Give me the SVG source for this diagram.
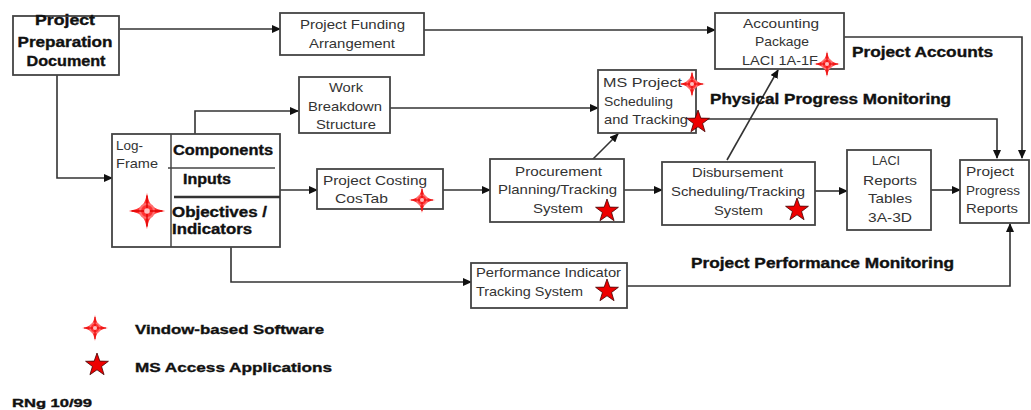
<svg xmlns="http://www.w3.org/2000/svg" width="1031" height="410" viewBox="0 0 1031 410">
<style>
.box{fill:#fff;stroke:#444;stroke-width:1.8}
.t{font-family:"Liberation Sans",Arial,sans-serif;font-size:13px;fill:#333}
.b{font-family:"Liberation Sans",Arial,sans-serif;font-size:14px;font-weight:bold;fill:#111;stroke:#111;stroke-width:0.35}
.c{stroke:#333;stroke-width:1.6;fill:none}
</style>
<defs>
<marker id="ah" markerWidth="9" markerHeight="8" refX="8" refY="4" orient="auto" markerUnits="userSpaceOnUse">
<path d="M0,0 L9,4 L0,8 Z" fill="#111"/>
</marker>
<g id="cross">
<path d="M0,-13 C1.5,-4 4,-1.5 13,0 C4,1.5 1.5,4 0,13 C-1.5,4 -4,1.5 -13,0 C-4,-1.5 -1.5,-4 0,-13 Z" fill="#ff3030"/>
<circle r="5" fill="none" stroke="#ff7070" stroke-width="1.5"/>
<path d="M0,-11 V11 M-11,0 H11" stroke="#e00000" stroke-width="1"/>
<circle r="2" fill="#ffc0c0"/>
</g>
<polygon id="star" points="0,-12 2.82,-3.88 11.41,-3.71 4.56,1.48 7.05,9.71 0,4.8 -7.05,9.71 -4.56,1.48 -11.41,-3.71 -2.82,-3.88" fill="#e00" stroke="#400" stroke-width="0.8"/>
</defs>
<rect width="1031" height="410" fill="#fff"/>

<g id="connectors">
<path class="c" d="M120,29 H280" marker-end="url(#ah)"/>
<path class="c" d="M424,30 H715" marker-end="url(#ah)"/>
<path class="c" d="M57,75 V178 H112" marker-end="url(#ah)"/>
<path class="c" d="M195,134 V111 H298" marker-end="url(#ah)"/>
<path class="c" d="M390,108 H598" marker-end="url(#ah)"/>
<path class="c" d="M275,190 H317" marker-end="url(#ah)"/>
<path class="c" d="M443,190 H490" marker-end="url(#ah)"/>
<path class="c" d="M624,190 H662" marker-end="url(#ah)"/>
<path class="c" d="M592,160 L618,134" marker-end="url(#ah)"/>
<path class="c" d="M727,160 L778,70" marker-end="url(#ah)"/>
<path class="c" d="M815,191 H847" marker-end="url(#ah)"/>
<path class="c" d="M931,190 H960" marker-end="url(#ah)"/>
<path class="c" d="M844,37 H1022 V158" marker-end="url(#ah)"/>
<path class="c" d="M696,119 H997 V158" marker-end="url(#ah)"/>
<path class="c" d="M231,247 V282 H471" marker-end="url(#ah)"/>
<path class="c" d="M627,286 H1010 V224" marker-end="url(#ah)"/>
</g>

<g id="ppd">
<rect class="box" x="13" y="16" width="106" height="59"/>
<text class="b" x="65" y="25" text-anchor="middle" textLength="60" lengthAdjust="spacingAndGlyphs">Project</text>
<text class="b" x="65" y="47" text-anchor="middle" textLength="95" lengthAdjust="spacingAndGlyphs">Preparation</text>
<text class="b" x="66" y="66" text-anchor="middle" textLength="79" lengthAdjust="spacingAndGlyphs">Document</text>
</g>

<g id="funding">
<rect class="box" x="280" y="13" width="144" height="42"/>
<text class="t" x="300" y="29" textLength="105" lengthAdjust="spacingAndGlyphs">Project Funding</text>
<text class="t" x="309" y="48" textLength="86" lengthAdjust="spacingAndGlyphs">Arrangement</text>
</g>

<g id="accounting">
<rect class="box" x="715" y="13" width="129" height="56"/>
<text class="t" x="743" y="28" textLength="76" lengthAdjust="spacingAndGlyphs">Accounting</text>
<text class="t" x="755" y="46" textLength="54" lengthAdjust="spacingAndGlyphs">Package</text>
<text class="t" x="742" y="65" textLength="76" lengthAdjust="spacingAndGlyphs">LACI 1A-1F</text>
<use href="#cross" x="827" y="64"/>
</g>

<g id="wbs">
<rect class="box" x="299" y="77" width="91" height="56"/>
<text class="t" x="329" y="92" textLength="34" lengthAdjust="spacingAndGlyphs">Work</text>
<text class="t" x="308" y="111" textLength="74" lengthAdjust="spacingAndGlyphs">Breakdown</text>
<text class="t" x="316" y="129" textLength="60" lengthAdjust="spacingAndGlyphs">Structure</text>
</g>

<g id="msproject">
<rect class="box" x="598" y="70" width="98" height="63"/>
<text class="t" x="603" y="87" textLength="79" lengthAdjust="spacingAndGlyphs">MS Project</text>
<text class="t" x="604" y="106" textLength="69" lengthAdjust="spacingAndGlyphs">Scheduling</text>
<text class="t" x="604" y="124" textLength="84" lengthAdjust="spacingAndGlyphs">and Tracking</text>
<use href="#cross" x="692" y="84"/>
<use href="#star" x="698" y="122"/>
</g>

<g id="logframe">
<rect class="box" x="112" y="134" width="168" height="113"/>
<path d="M171,134 V247" stroke="#444" stroke-width="1.5"/>
<path d="M168,168 H275" stroke="#444" stroke-width="1.5"/>
<path d="M174,197 H280" stroke="#333" stroke-width="2.5"/>
<text class="t" x="116" y="150" textLength="27" lengthAdjust="spacingAndGlyphs">Log-</text>
<text class="t" x="116" y="168" textLength="42" lengthAdjust="spacingAndGlyphs">Frame</text>
<text class="b" x="173" y="155" textLength="100" lengthAdjust="spacingAndGlyphs">Components</text>
<text class="b" x="183" y="184" textLength="48" lengthAdjust="spacingAndGlyphs">Inputs</text>
<text class="b" x="172" y="217" textLength="95" lengthAdjust="spacingAndGlyphs">Objectives /</text>
<text class="b" x="172" y="234" textLength="80" lengthAdjust="spacingAndGlyphs">Indicators</text>
<use href="#cross" transform="translate(147,211) scale(1.4)"/>
</g>

<g id="costing">
<rect class="box" x="317" y="169" width="126" height="40"/>
<text class="t" x="323" y="185" textLength="104" lengthAdjust="spacingAndGlyphs">Project Costing</text>
<text class="t" x="335" y="203" textLength="53" lengthAdjust="spacingAndGlyphs">CosTab</text>
<use href="#cross" x="422" y="200"/>
</g>

<g id="procurement">
<rect class="box" x="490" y="159" width="134" height="63"/>
<text class="t" x="515" y="176" textLength="87" lengthAdjust="spacingAndGlyphs">Procurement</text>
<text class="t" x="498" y="194" textLength="119" lengthAdjust="spacingAndGlyphs">Planning/Tracking</text>
<text class="t" x="533" y="213" textLength="50" lengthAdjust="spacingAndGlyphs">System</text>
<use href="#star" x="607" y="211"/>
</g>

<g id="disbursement">
<rect class="box" x="662" y="162" width="153" height="63"/>
<text class="t" x="692" y="177" textLength="91" lengthAdjust="spacingAndGlyphs">Disbursement</text>
<text class="t" x="671" y="196" textLength="134" lengthAdjust="spacingAndGlyphs">Scheduling/Tracking</text>
<text class="t" x="714" y="215" textLength="49" lengthAdjust="spacingAndGlyphs">System</text>
<use href="#star" x="797" y="210"/>
</g>

<g id="laci">
<rect class="box" x="847" y="150" width="84" height="80"/>
<text class="t" x="872" y="165" textLength="28" lengthAdjust="spacingAndGlyphs">LACI</text>
<text class="t" x="863" y="185" textLength="54" lengthAdjust="spacingAndGlyphs">Reports</text>
<text class="t" x="868" y="203" textLength="44" lengthAdjust="spacingAndGlyphs">Tables</text>
<text class="t" x="868" y="222" textLength="44" lengthAdjust="spacingAndGlyphs">3A-3D</text>
</g>

<g id="ppr">
<rect class="box" x="960" y="160" width="69" height="63"/>
<text class="t" x="966" y="176" textLength="48" lengthAdjust="spacingAndGlyphs">Project</text>
<text class="t" x="966" y="195" textLength="54" lengthAdjust="spacingAndGlyphs">Progress</text>
<text class="t" x="966" y="213" textLength="52" lengthAdjust="spacingAndGlyphs">Reports</text>
</g>

<g id="performance">
<rect class="box" x="471" y="263" width="156" height="45"/>
<text class="t" x="476" y="277" textLength="145" lengthAdjust="spacingAndGlyphs">Performance Indicator</text>
<text class="t" x="476" y="296" textLength="107" lengthAdjust="spacingAndGlyphs">Tracking System</text>
<use href="#star" x="607" y="291"/>
</g>

<g id="labels">
<text class="b" x="852" y="57" textLength="141" lengthAdjust="spacingAndGlyphs">Project Accounts</text>
<text class="b" x="710" y="104" textLength="241" lengthAdjust="spacingAndGlyphs">Physical Progress Monitoring</text>
<text class="b" x="691" y="268" textLength="263" lengthAdjust="spacingAndGlyphs">Project Performance Monitoring</text>
</g>

<g id="legend">
<use href="#cross" x="95" y="328"/>
<text class="b" x="135" y="334" style="font-size:13px" textLength="189" lengthAdjust="spacingAndGlyphs">Vindow-based Software</text>
<use href="#star" x="97" y="365"/>
<text class="b" x="135" y="372" style="font-size:13px" textLength="197" lengthAdjust="spacingAndGlyphs">MS Access Applications</text>
<text class="b" x="12" y="407" style="font-size:11px" textLength="80" lengthAdjust="spacingAndGlyphs">RNg 10/99</text>
</g>
</svg>
